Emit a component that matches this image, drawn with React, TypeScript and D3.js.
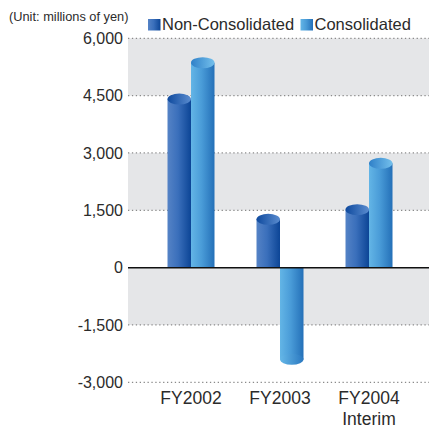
import React from "react";
import * as d3 from "d3";

const categories = ["FY2002", "FY2003", "FY2004"];
const categorySubLabels = ["", "", "Interim"];
const seriesNames = ["Non-Consolidated", "Consolidated"];
const nonConsolidated = [4410, 1265, 1515];
const consolidated = [5360, -2400, 2730];
const tickValues = [6000, 4500, 3000, 1500, 0, -1500, -3000];

const W = 429;
const H = 428;
const plotLeft = 128;
const plotRight = 429;
const RY = 5.5;

const comma = d3.format(",");
const fmt = (v: number) => comma(v).replace("\u2212", "-");

export default function App() {
  const y = d3.scaleLinear().domain([-3000, 6000]).range([382.3, 38.3]);
  const x0 = d3.scaleBand<string>().domain(categories).range([146.5, 413.5]).padding(0);
  const bw = x0.bandwidth();
  const barW = 23.5;
  const x1 = d3
    .scaleBand<string>()
    .domain(seriesNames)
    .range([bw / 2 - barW, bw / 2 + barW])
    .padding(0);

  const seriesValues = [nonConsolidated, consolidated];
  const bodyGrad = ["gNonBody", "gConBody"];
  const capGrad = ["gNonCap", "gConCap"];

  // alternating bands: shaded on [6000,4500], [3000,1500], [0,-1500]
  const bands: [number, number][] = [];
  for (let i = 0; i < tickValues.length - 1; i += 2) bands.push([tickValues[i], tickValues[i + 1]]);

  const font = "'Liberation Sans', Arial, Helvetica, sans-serif";
  const textColor = "#2b2b2b";

  return (
    <svg
      width={W}
      height={H}
      style={{ position: "absolute", left: 0, top: 0, display: "block" }}
      fontFamily={font}
    >
      <defs>
        <linearGradient id="gNonBody" x1="0" x2="1" y1="0" y2="0">
          <stop offset="0" stopColor="#5583c6" />
          <stop offset="0.45" stopColor="#3a6fbb" />
          <stop offset="1" stopColor="#0c4596" />
        </linearGradient>
        <linearGradient id="gConBody" x1="0" x2="1" y1="0" y2="0">
          <stop offset="0" stopColor="#63b5e6" />
          <stop offset="0.45" stopColor="#4a9cd8" />
          <stop offset="1" stopColor="#2470b8" />
        </linearGradient>
        <linearGradient id="gNonCap" x1="0" x2="1" y1="0" y2="0">
          <stop offset="0" stopColor="#0f4a9e" />
          <stop offset="1" stopColor="#5a8ccf" />
        </linearGradient>
        <linearGradient id="gConCap" x1="0" x2="1" y1="0" y2="0">
          <stop offset="0" stopColor="#2f80c8" />
          <stop offset="1" stopColor="#74c0ec" />
        </linearGradient>
        <linearGradient id="gConBottom" x1="0" x2="1" y1="0" y2="0">
          <stop offset="0" stopColor="#66b8e8" />
          <stop offset="1" stopColor="#2a78c0" />
        </linearGradient>
      </defs>

      {/* shaded bands */}
      {bands.map(([a, b], i) => (
        <rect key={i} x={plotLeft} y={y(a)} width={plotRight - plotLeft} height={y(b) - y(a)} fill="#e5e6e8" />
      ))}

      {/* dotted gridlines */}
      {tickValues
        .filter((t) => t !== 0)
        .map((t) => (
          <line
            key={t}
            x1={plotLeft}
            x2={plotRight}
            y1={y(t)}
            y2={y(t)}
            stroke="#8a8a8a"
            strokeWidth={1.2}
            strokeDasharray="1.3 2.6"
          />
        ))}

      {/* tick labels */}
      {tickValues.map((t) => (
        <text
          key={t}
          x={123}
          y={y(t)}
          dy="0.36em"
          textAnchor="end"
          fontSize={16}
          fill={textColor}
        >
          {fmt(t)}
        </text>
      ))}

      {/* bars */}
      {categories.map((c, ci) => (
        <g key={c} transform={`translate(${x0(c)},0)`}>
          {seriesNames.map((s, si) => {
            const v = seriesValues[si][ci];
            const bx = x1(s)!;
            const w = x1.bandwidth();
            const yv = y(v);
            const y0 = y(0);
            const top = Math.min(yv, y0);
            const h = Math.abs(y0 - yv);
            return (
              <g key={s}>
                <rect x={bx} y={top} width={w} height={h} fill={`url(#${bodyGrad[si]})`} />
                <ellipse
                  cx={bx + w / 2}
                  cy={yv}
                  rx={w / 2}
                  ry={RY}
                  fill={v >= 0 ? `url(#${capGrad[si]})` : "url(#gConBottom)"}
                />
              </g>
            );
          })}
        </g>
      ))}

      {/* zero line */}
      <line x1={plotLeft} x2={plotRight} y1={y(0)} y2={y(0)} stroke="#111" strokeWidth={1.5} />

      {/* category labels */}
      {categories.map((c, ci) => (
        <g key={c}>
          <text
            x={x0(c)! + bw / 2}
            y={404}
            textAnchor="middle"
            fontSize={17.5}
            fill={textColor}
          >
            {c}
          </text>
          {categorySubLabels[ci] && (
            <text
              x={x0(c)! + bw / 2}
              y={424.5}
              textAnchor="middle"
              fontSize={17.5}
              fill={textColor}
            >
              {categorySubLabels[ci]}
            </text>
          )}
        </g>
      ))}

      {/* unit label */}
      <text x={9} y={21} fontSize={12.8} fill={textColor}>
        (Unit: millions of yen)
      </text>

      {/* legend */}
      {seriesNames.map((s, si) => {
        const lx = si === 0 ? 148 : 300.5;
        return (
          <g key={s}>
            <rect x={lx} y={19} width={12.5} height={11.5} fill={`url(#${bodyGrad[si]})`} />
            <text x={lx + 14} y={30} fontSize={16.5} fill={textColor}>
              {s}
            </text>
          </g>
        );
      })}
    </svg>
  );
}
